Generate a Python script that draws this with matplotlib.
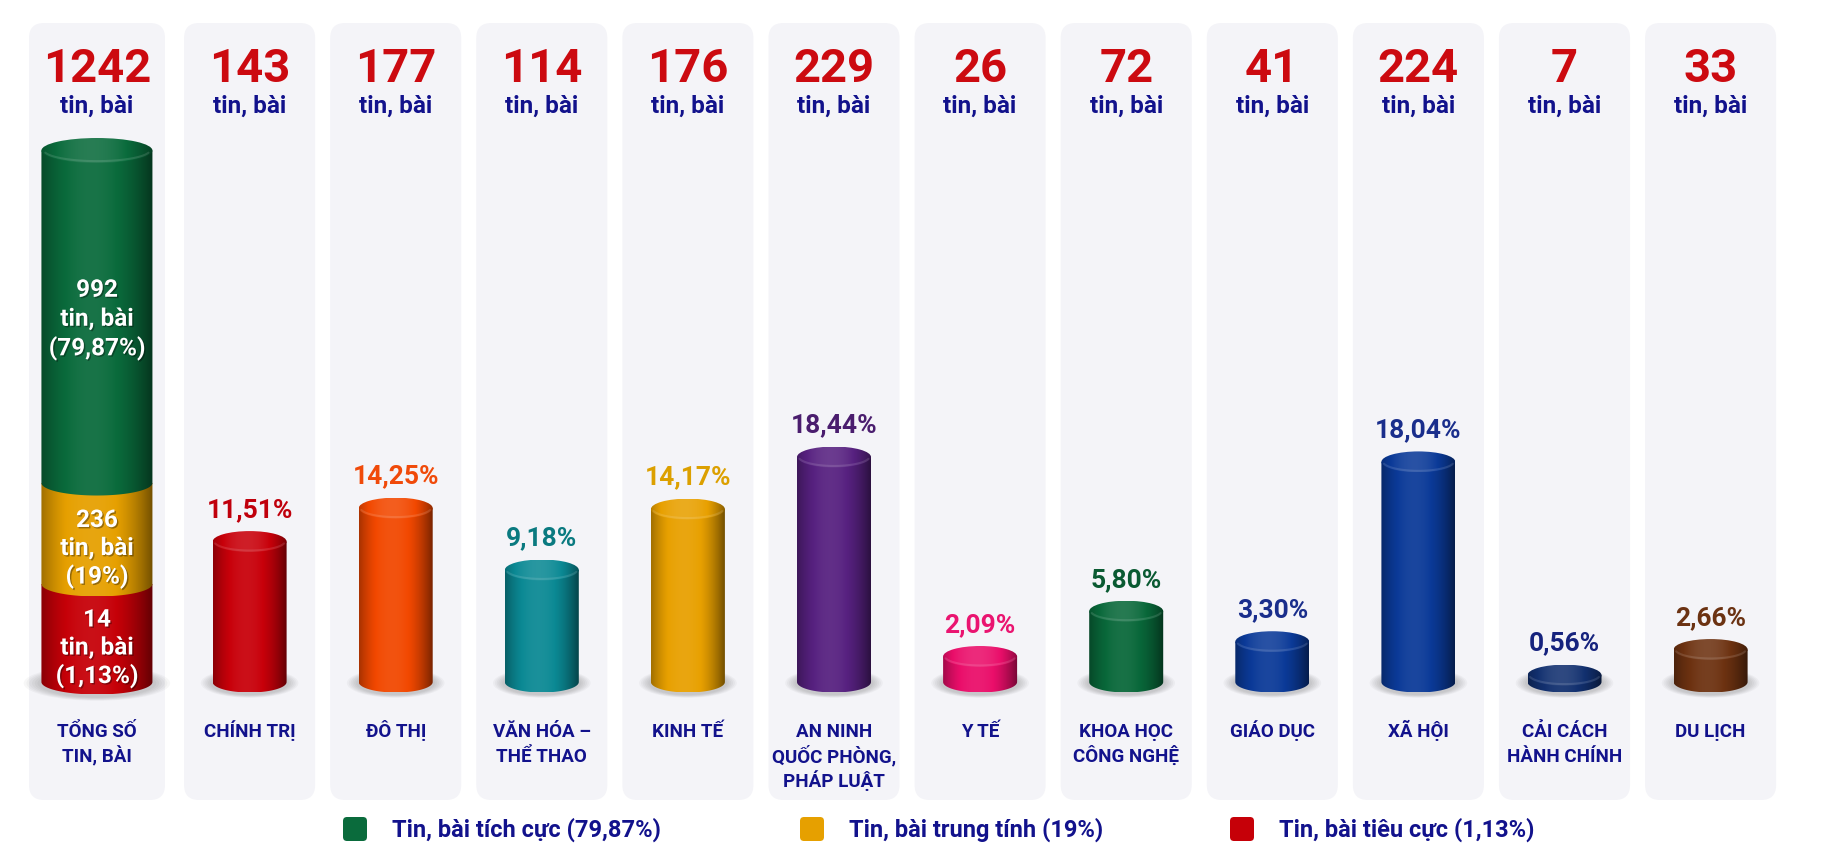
import numpy as np
import matplotlib
matplotlib.use("Agg")
import matplotlib.pyplot as plt
from matplotlib.patches import Polygon, Ellipse, FancyBboxPatch
import matplotlib.colors as mcolors
import matplotlib.patheffects as pe

plt.rcParams['font.family'] = ['Roboto', 'DejaVu Sans']

# du lieu
linh_vuc = ["TỔNG SỐ\nTIN, BÀI", "CHÍNH TRỊ", "ĐÔ THỊ", "VĂN HÓA –\nTHỂ THAO", "KINH TẾ",
            "AN NINH\nQUỐC PHÒNG,\nPHÁP LUẬT", "Y TẾ", "KHOA HỌC\nCÔNG NGHỆ", "GIÁO DỤC",
            "XÃ HỘI", "CẢI CÁCH\nHÀNH CHÍNH", "DU LỊCH"]
so_tin = [1242, 143, 177, 114, 176, 229, 26, 72, 41, 224, 7, 33]
ty_le = [11.51, 14.25, 9.18, 14.17, 18.44, 2.09, 5.80, 3.30, 18.04, 0.56, 2.66]
mau_tru = ['#c8000a', '#f24800', '#0b8994', '#e8a000', '#572180', '#ea0e6a',
           '#09683a', '#0b3a98', '#0b3a98', '#12306f', '#6d3211']
mau_nhan = ['#c0000c', '#f04a0a', '#0a7a80', '#dca000', '#4a1d6e', '#ea1470',
            '#0a5a32', '#1a2e8c', '#1a2e8c', '#16237e', '#6b3212']

sac_thai = ["Tin, bài tích cực", "Tin, bài trung tính", "Tin, bài tiêu cực"]
sac_thai_so = [992, 236, 14]
sac_thai_pct = ["79,87%", "19%", "1,13%"]
sac_thai_mau = ['#0a6b3c', '#e6a000', '#c60008']

NAVY = '#12128c'
RED = '#cc0a10'

# toa do: 1 don vi x = 146.1 px, 1 don vi y = 1% = 12.2 px
PX_X = 146.1
PX_Y = 12.2
W, H = 1823, 863


def xd(px):
    return 1 + (px - 249.6) / PX_X


def yd(py):
    return (682 - py) / PX_Y


fig = plt.figure(figsize=(W / 100, H / 100), dpi=100)
fig.patch.set_facecolor('white')
ax = fig.add_axes([0, 0, 1, 1])
ax.set_xlim(xd(0), xd(W))
ax.set_ylim(yd(H), yd(0))
ax.set_autoscale_on(False)
ax.axis('off')

n = len(so_tin)
x_pos = np.arange(n, dtype=float)
x_pos[0] -= 0.045


def shade(base, lift=0.0):
    rgb = np.array(mcolors.to_rgb(base))
    t = np.linspace(-1, 1, 200)
    f = 1.10 - 0.50 * np.abs(t + 0.1) ** 2 + lift
    out = np.zeros((1, len(t), 3))
    for k, fk in enumerate(f):
        if fk > 1:
            out[0, k] = rgb + (1 - rgb) * min(fk - 1, 1) * 0.6
        else:
            out[0, k] = rgb * fk
    return np.clip(out, 0, 1)


def ve_bong(x, y0, w, ry):
    for k in range(6):
        s = 1.32 - k * 0.05
        ax.add_patch(Ellipse((x, y0 - 0.1 * ry), w * s, 2 * ry * (1.4 - k * 0.05),
                             fc='black', ec='none', alpha=0.03, zorder=2))


def ve_than(x, y0, y1, w, ry, mau):
    th = np.linspace(np.pi, 2 * np.pi, 80)
    vx = list(x + w / 2 * np.cos(th)) + [x + w / 2, x - w / 2]
    vy = list(y0 + ry * np.sin(th)) + [y1, y1]
    poly = Polygon(np.column_stack([vx, vy]), closed=True, fc='none', ec='none',
                   transform=ax.transData, zorder=3)
    ax.add_patch(poly)
    im = ax.imshow(shade(mau), extent=(x - w / 2, x + w / 2, y0 - ry, y1),
                   aspect='auto', interpolation='bilinear', zorder=3)
    im.set_clip_path(poly)


def ve_nap(x, y1, w, ry, mau):
    el = Ellipse((x, y1), w, 2 * ry, fc='none', ec='none', transform=ax.transData, zorder=4)
    ax.add_patch(el)
    im = ax.imshow(shade(mau, lift=0.10), extent=(x - w / 2, x + w / 2, y1 - ry, y1 + ry),
                   aspect='auto', interpolation='bilinear', zorder=4)
    im.set_clip_path(el)
    # mep sang phia truoc cua nap
    th = np.linspace(np.pi * 1.08, np.pi * 1.92, 60)
    ax.plot(x + w / 2 * 0.96 * np.cos(th), y1 + ry * 0.9 * np.sin(th) + 0.05 * ry,
            color='white', lw=1.5, alpha=0.12, zorder=4, solid_capstyle='round')


# nen cac cot
for i in range(n):
    if i == 0:
        x0, x1 = xd(29), xd(165)
    else:
        x0, x1 = x_pos[i] - 0.4485, x_pos[i] + 0.4485
    ax.add_patch(FancyBboxPatch((x0, yd(800)), x1 - x0, yd(23) - yd(800),
                                boxstyle=f"round,pad=0,rounding_size={15 / PX_X}",
                                mutation_aspect=PX_X / PX_Y,
                                fc='#f4f4f8', ec='none', zorder=1))

# cot tong: chong 3 sac thai
w0 = 111 / PX_X
ry0 = 12.5 / PX_Y
tong_cao = 531.5 / PX_Y
san = 98 / PX_Y
share = np.array(sac_thai_so) / so_tin[0]
cao = np.maximum(share * tong_cao, san)
cao[0] = tong_cao - cao[1:].sum()

ve_bong(x_pos[0], 0, w0, ry0)
lo = 0.0
bounds = []
for k in [2, 1, 0]:
    hi = lo + cao[k]
    ve_than(x_pos[0], lo, hi, w0, ry0, sac_thai_mau[k])
    bounds.append((k, lo, hi))
    lo = hi
ve_nap(x_pos[0], lo, w0, ry0, sac_thai_mau[0])

shadow = [pe.withSimplePatchShadow(offset=(1, -1), shadow_rgbFace='black', alpha=0.35)]
for k, lo_k, hi_k in bounds:
    yc = (lo_k + hi_k) / 2 - (0 if k == 0 else ry0)
    dy = (29 if k == 0 else 28) / PX_Y
    for j, s in enumerate([str(sac_thai_so[k]), "tin, bài", "(" + sac_thai_pct[k] + ")"]):
        ax.text(x_pos[0], yc + (1 - j) * dy, s, ha='center', va='center_baseline',
                fontsize=17.5, fontweight='bold', color='white', zorder=6, path_effects=shadow)

# cac linh vuc
w = 74 / PX_X
ry = 10.5 / PX_Y
for i in range(1, n):
    v = ty_le[i - 1]
    ve_bong(x_pos[i], 0, w, ry)
    ve_than(x_pos[i], 0, v, w, ry, mau_tru[i - 1])
    ve_nap(x_pos[i], v, w, ry, mau_tru[i - 1])
    nhan = f"{v:.2f}".replace('.', ',') + "%"
    ax.text(x_pos[i], v + ry + 14 / PX_Y, nhan, ha='center', va='baseline',
            fontsize=19, fontweight='bold', color=mau_nhan[i - 1], zorder=6)

# tieu de so luong va nhan linh vuc
for i in range(n):
    ax.text(x_pos[i], yd(82), str(so_tin[i]), ha='center', va='baseline',
            fontsize=34, fontweight='bold', color=RED, zorder=6)
    ax.text(x_pos[i], yd(113), "tin, bài", ha='center', va='baseline',
            fontsize=17.5, fontweight='bold', color=NAVY, zorder=6)
    for j, dong in enumerate(linh_vuc[i].split("\n")):
        ax.text(x_pos[i], yd(737 + 25 * j), dong, ha='center', va='baseline',
                fontsize=13.5, fontweight='bold', color=NAVY, zorder=6)

# chu thich
vi_tri_o = [343, 800, 1230]
for k in range(3):
    ax.add_patch(FancyBboxPatch((xd(vi_tri_o[k]), yd(841)), 24 / PX_X, 24 / PX_Y,
                                boxstyle=f"round,pad=0,rounding_size={4 / PX_X}",
                                mutation_aspect=PX_X / PX_Y,
                                fc=sac_thai_mau[k], ec='none', zorder=5))
    ax.text(xd(vi_tri_o[k] + 49), yd(837), f"{sac_thai[k]} ({sac_thai_pct[k]})",
            ha='left', va='baseline', fontsize=17, fontweight='bold', color=NAVY, zorder=6)

fig.savefig("out.png", dpi=100, facecolor='white')
plt.close(fig)
